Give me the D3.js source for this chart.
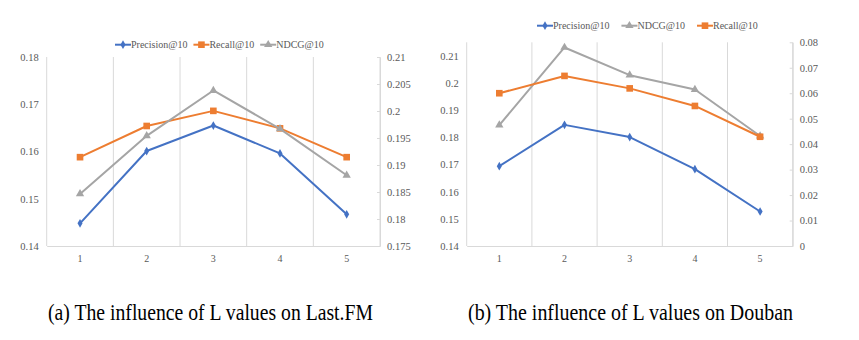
<!DOCTYPE html>
<html><head><meta charset="utf-8">
<script src="https://cdn.jsdelivr.net/npm/d3@7/dist/d3.min.js"></script>
<style>
body{margin:0;background:#fff;}
svg{display:block;}
svg text{font-family:"Liberation Serif","DejaVu Serif",serif !important;}
</style></head>
<body>
<svg id="c" width="859" height="340"></svg>
<script>
// ---- data ----
const categories = ["1","2","3","4","5"];

// (a) Last.FM
const lastfmPrecision = [0.1448, 0.1601, 0.1655, 0.1596, 0.1467];
const lastfmRecall    = [0.1588, 0.1654, 0.1686, 0.1649, 0.1588];
const lastfmNDCG      = [0.18465, 0.1954, 0.2038, 0.1967, 0.1881];
const lastfmLeftTicks  = [0.14, 0.15, 0.16, 0.17, 0.18];
const lastfmRightTicks = [0.175, 0.18, 0.185, 0.19, 0.195, 0.2, 0.205, 0.21];

// (b) Douban
const doubanPrecision = [0.1694, 0.1846, 0.1801, 0.1683, 0.1527];
const doubanNDCG      = [0.1845, 0.2131, 0.2029, 0.1976, 0.1805];
const doubanRecall    = [0.0600, 0.0668, 0.0619, 0.0550, 0.0429];
const doubanLeftTicks  = [0.14, 0.15, 0.16, 0.17, 0.18, 0.19, 0.2, 0.21];
const doubanRightTicks = [0, 0.01, 0.02, 0.03, 0.04, 0.05, 0.06, 0.07, 0.08];

const captions = ["(a) The influence of L values on Last.FM", "(b) The influence of L values on Douban"];

// ---- styles ----
const COL = {Precision:"#4472C4", Recall:"#ED7D31", NDCG:"#A5A5A5"};
const SYM = {Precision:d3.symbolDiamond, Recall:d3.symbolSquare, NDCG:d3.symbolTriangle};
const SYMSIZE = {Precision:22, Recall:44, NDCG:30};
const labelColor = "#595959", gridColor = "#d9d9d9";
const FONT = '"Liberation Serif", "DejaVu Serif", serif';
const fmt = d => String(+(+d).toFixed(3));

const svg = d3.select("#c");

function drawChart(cfg){
  const g = svg.append("g").attr("font-family", FONT);
  const x = d3.scaleBand().domain(categories).range([cfg.x0, cfg.x1]).paddingInner(0).paddingOuter(0);
  const yL = d3.scaleLinear().domain(cfg.leftDomain).range([cfg.yb, cfg.yt]);
  const yR = d3.scaleLinear().domain(cfg.rightDomain).range([cfg.yb, cfg.yt]);

  // vertical gridlines at band boundaries
  const edges = categories.map(c => x(c)).concat([cfg.x1]);
  g.selectAll(".vg").data(edges).join("line")
    .attr("x1", d=>d).attr("x2", d=>d).attr("y1", cfg.yt).attr("y2", cfg.yb)
    .attr("stroke", gridColor).attr("stroke-width", 1);

  // bottom axis
  const xa = g.append("g").attr("transform", `translate(0,${cfg.yb})`)
    .call(d3.axisBottom(x).tickSize(0).tickPadding(9));
  xa.attr("font-family", FONT);
  xa.select(".domain").attr("stroke", gridColor);
  xa.selectAll("text").attr("fill", labelColor).style("font-size","10px").style("font-family", FONT);

  // left axis
  const la = g.append("g").attr("transform", `translate(${cfg.x0},0)`)
    .call(d3.axisLeft(yL).tickValues(cfg.leftTicks).tickFormat(fmt).tickSize(0).tickPadding(8));
  la.attr("font-family", FONT);
  la.select(".domain").remove();
  la.selectAll("text").attr("fill", labelColor).style("font-size","10.5px").style("font-family", FONT);

  // right axis
  const ra = g.append("g").attr("transform", `translate(${cfg.x1},0)`)
    .call(d3.axisRight(yR).tickValues(cfg.rightTicks).tickFormat(fmt).tickSizeInner(-3).tickSizeOuter(0).tickPadding(7));
  ra.attr("font-family", FONT);
  ra.select(".domain").attr("stroke", gridColor);
  ra.selectAll(".tick line").attr("stroke", gridColor);
  ra.selectAll("text").attr("fill", labelColor).style("font-size","10.5px").style("font-family", FONT);

  // series
  cfg.series.forEach(s => {
    const y = s.axis === "left" ? yL : yR;
    const line = d3.line().x((d,i)=>x(categories[i]) + x.bandwidth()/2).y(d=>y(d));
    g.append("path").datum(s.values).attr("d", line)
      .attr("fill","none").attr("stroke", COL[s.key]).attr("stroke-width", 2).attr("stroke-linejoin","round");
    g.selectAll(null).data(s.values).join("path")
      .attr("transform", (d,i)=>`translate(${x(categories[i]) + x.bandwidth()/2},${y(d)})`)
      .attr("d", d3.symbol().type(SYM[s.key]).size(SYMSIZE[s.key]))
      .attr("fill", COL[s.key]);
  });

  // legend
  const lg = g.append("g").attr("transform", `translate(${cfg.legendX},${cfg.legendY})`);
  let lx = 0;
  const LL = 16;
  cfg.series.forEach(s => {
    const it = lg.append("g").attr("transform", `translate(${lx},0)`);
    it.append("line").attr("x1",0).attr("x2",LL).attr("y1",0).attr("y2",0)
      .attr("stroke", COL[s.key]).attr("stroke-width",2);
    it.append("path").attr("transform",`translate(${LL/2},0)`)
      .attr("d", d3.symbol().type(SYM[s.key]).size(SYMSIZE[s.key])).attr("fill", COL[s.key]);
    const t = it.append("text").attr("x",LL).attr("y",3.5).attr("fill",labelColor)
      .style("font-size","10px").style("font-family", FONT).text(s.key + "@10");
    lx += LL + t.node().getComputedTextLength() + cfg.legendGap;
  });

  // caption
  g.append("text").attr("x", cfg.capX).attr("y", 320).attr("fill","#000")
    .style("font-size","23px").style("font-family", FONT)
    .attr("textLength", 325).attr("lengthAdjust","spacingAndGlyphs")
    .text(cfg.caption);
}

drawChart({
  x0:46.7, x1:380, yt:57, yb:246,
  leftDomain:[0.14,0.18], rightDomain:[0.175,0.21],
  leftTicks:lastfmLeftTicks, rightTicks:lastfmRightTicks,
  series:[
    {key:"Precision", values:lastfmPrecision, axis:"left"},
    {key:"Recall", values:lastfmRecall, axis:"left"},
    {key:"NDCG", values:lastfmNDCG, axis:"right"}
  ],
  legendX:115, legendY:44.7, legendGap:6,
  caption:captions[0], capX:48
});

drawChart({
  x0:466.7, x1:792.7, yt:42.3, yb:246,
  leftDomain:[0.14,0.215], rightDomain:[0,0.08],
  leftTicks:doubanLeftTicks, rightTicks:doubanRightTicks,
  series:[
    {key:"Precision", values:doubanPrecision, axis:"left"},
    {key:"NDCG", values:doubanNDCG, axis:"left"},
    {key:"Recall", values:doubanRecall, axis:"right"}
  ],
  legendX:537, legendY:25.7, legendGap:12,
  caption:captions[1], capX:468
});
</script>
</body></html>
